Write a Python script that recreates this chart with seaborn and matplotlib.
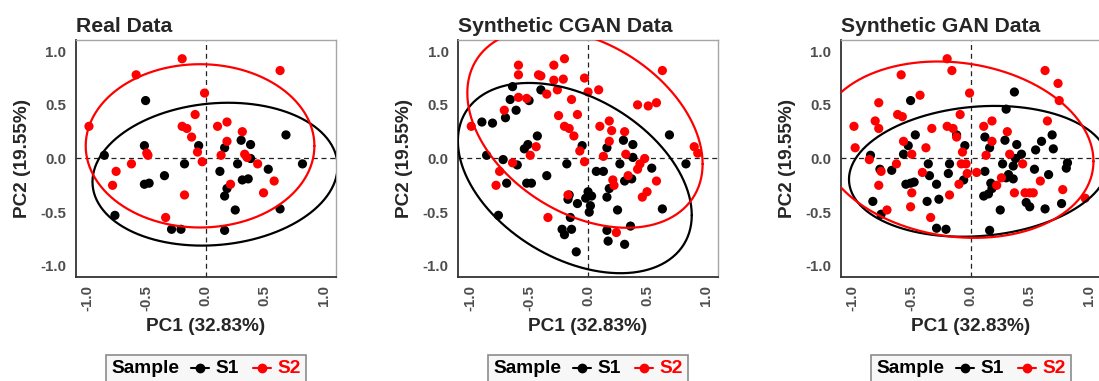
import numpy as np
import pandas as pd
import matplotlib
matplotlib.use("Agg")
import matplotlib.pyplot as plt
import seaborn as sns
from matplotlib.offsetbox import TextArea, DrawingArea, HPacker, AnchoredOffsetbox
from matplotlib.lines import Line2D
from matplotlib.ticker import FixedLocator, FixedFormatter

# ---------------- data ----------------
titles = ["Real Data", "Synthetic CGAN Data", "Synthetic GAN Data"]
groups = ["S1", "S2"]
x_label = "PC1 (32.83%)"
y_label = "PC2 (19.55%)"
tick_values = [-1.0, -0.5, 0.0, 0.5, 1.0]
tick_labels = ["-1.0", "-0.5", "0.0", "0.5", "1.0"]

real_s1_x = [-0.51, 0.68, -0.86, -0.52, -0.06, 0.16, 0.30, 0.38, 0.38, 0.82, -0.18, 0.12, 0.27, 0.53,
             -0.35, -0.52, -0.48, 0.31, 0.36, 0.18, 0.16, 0.25, 0.63, -0.77, -0.29, -0.21, 0.16]
real_s1_y = [0.54, 0.22, 0.03, 0.12, 0.12, 0.10, 0.17, 0.13, 0.00, -0.05, -0.05, -0.12, -0.05, -0.10,
             -0.16, -0.24, -0.23, -0.20, -0.19, -0.28, -0.35, -0.48, -0.47, -0.53, -0.66, -0.66, -0.67]
real_s2_x = [-0.20, -0.59, 0.63, -0.01, -0.99, -0.09, -0.20, -0.16, -0.12, 0.10, 0.18, 0.31, 0.18, -0.07,
             -0.50, -0.49, -0.63, -0.76, -0.79, -0.03, 0.13, 0.33, 0.35, 0.44, 0.58, 0.49, 0.21, -0.18, -0.34]
real_s2_y = [0.93, 0.78, 0.82, 0.61, 0.30, 0.41, 0.30, 0.28, 0.20, 0.30, 0.34, 0.25, 0.16, 0.06,
             0.05, 0.03, -0.05, -0.12, -0.25, -0.03, 0.03, 0.04, 0.01, -0.05, -0.21, -0.32, -0.24, -0.34, -0.55]

cgan_s1_x = [-0.64, -0.66, -0.40, -0.50, -0.61, -0.70, -0.90, -0.81, -0.43, -0.51, -0.54, -0.86, -0.72, -0.60,
             -0.18, -0.05, -0.35, -0.69, -0.52, -0.48, 0.16, 0.30, 0.38, 0.38, 0.27, 0.54, 0.69, 0.83,
             0.07, 0.13, 0.31, 0.37, 0.18, 0.16, 0.00, 0.03, -0.02, 0.02, 0.01, -0.16, -0.17, -0.09,
             0.25, 0.63, -0.76, -0.15, -0.22, -0.14, -0.20, 0.16, 0.17, 0.36, 0.31, -0.10]
cgan_s1_y = [0.67, 0.55, 0.64, 0.54, 0.45, 0.38, 0.34, 0.33, 0.21, 0.13, 0.09, 0.03, -0.01, -0.06,
             -0.05, 0.12, -0.16, -0.23, -0.23, -0.23, 0.10, 0.17, 0.13, 0.01, -0.05, -0.09, 0.22, -0.05,
             -0.12, -0.12, -0.21, -0.19, -0.28, -0.36, -0.31, -0.35, -0.37, -0.44, -0.50, -0.34, -0.38, -0.42,
             -0.48, -0.47, -0.53, -0.55, -0.66, -0.66, -0.71, -0.67, -0.77, -0.63, -0.80, -0.87]
cgan_s2_x = [-0.59, -0.59, -0.42, -0.40, -0.29, -0.20, -0.29, -0.21, -0.26, -0.03, 0.00, 0.09, 0.63, -0.35,
             -0.59, -0.52, -0.14, -0.71, 0.42, 0.51, 0.58, -0.25, -0.09, -0.99, -0.20, -0.16, -0.12, 0.10,
             0.18, 0.20, 0.31, 0.18, -0.44, -0.07, -0.49, 0.32, 0.13, -0.03, -0.64, -0.75, -0.78, 0.48,
             0.44, 0.42, 0.34, 0.21, 0.22, 0.58, 0.50, 0.46, 0.90, 0.93, -0.17, -0.34, 0.24]
cgan_s2_y = [0.87, 0.78, 0.78, 0.77, 0.87, 0.93, 0.73, 0.74, 0.64, 0.75, 0.62, 0.64, 0.82, 0.60,
             0.57, 0.56, 0.55, 0.45, 0.50, 0.49, 0.52, 0.40, 0.41, 0.30, 0.30, 0.28, 0.21, 0.30,
             0.35, 0.26, 0.25, 0.16, 0.11, 0.07, 0.03, 0.04, 0.02, -0.03, -0.04, -0.12, -0.25, 0.00,
             -0.05, -0.10, -0.16, -0.20, -0.25, -0.21, -0.31, -0.36, 0.11, 0.05, -0.34, -0.55, -0.69]

gan_s1_x = [-0.51, 0.37, 0.30, -0.47, -0.12, -0.53, -0.57, 0.12, 0.29, 0.39, 0.60, 0.69, 0.70, 0.55,
            -0.05, 0.16, 0.43, 0.38, -0.85, -0.77, -0.67, -0.36, -0.18, -0.19, -0.35, -0.29, -0.55, -0.51,
            -0.48, -0.06, 0.12, 0.27, 0.36, 0.54, 0.66, 0.82, 0.81, 0.32, 0.30, 0.36, 0.17, 0.18,
            0.15, 0.11, -0.37, -0.27, -0.83, -0.76, 0.25, 0.47, 0.50, 0.63, 0.77, -0.29, -0.21, 0.16]
gan_s1_y = [0.54, 0.62, 0.46, 0.22, 0.22, 0.12, 0.04, 0.20, 0.17, 0.13, 0.16, 0.22, 0.09, 0.08,
            0.12, 0.10, 0.04, 0.00, 0.03, -0.10, -0.11, -0.05, -0.05, -0.14, -0.16, -0.24, -0.24, -0.23,
            -0.22, -0.20, -0.12, -0.05, -0.07, -0.10, -0.15, -0.04, -0.09, -0.15, -0.18, -0.19, -0.23, -0.28,
            -0.33, -0.35, -0.40, -0.38, -0.40, -0.52, -0.48, -0.41, -0.45, -0.47, -0.42, -0.65, -0.66, -0.67]
gan_s2_x = [-0.20, -0.16, -0.59, 0.63, 0.74, 0.75, -0.01, -0.43, -0.78, -0.62, -0.58, -0.81, -0.78, -0.99,
            -0.09, 0.18, 0.11, -0.20, -0.15, -0.33, -0.12, 0.31, 0.65, 0.18, -0.57, -0.38, -0.98, -0.50,
            -0.07, -0.86, 0.13, 0.33, -0.63, -0.08, -0.04, -0.76, -0.41, -0.03, 0.05, 0.44, -0.78, -0.10,
            0.22, 0.26, 0.59, 0.78, -0.18, -0.50, -0.51, 0.37, 0.46, 0.50, 0.53, 0.97, -0.71, -0.34]
gan_s2_y = [0.93, 0.82, 0.78, 0.82, 0.70, 0.54, 0.61, 0.59, 0.52, 0.41, 0.39, 0.35, 0.28, 0.30,
            0.41, 0.35, 0.30, 0.30, 0.28, 0.28, 0.20, 0.25, 0.35, 0.16, 0.16, 0.10, 0.10, 0.04,
            0.06, -0.01, 0.03, 0.04, -0.05, -0.05, -0.05, -0.12, -0.13, -0.14, -0.13, -0.05, -0.25, -0.24,
            -0.25, -0.18, -0.21, -0.29, -0.34, -0.32, -0.45, -0.32, -0.32, -0.32, -0.32, -0.37, -0.48, -0.55]

panel_data = [
    (real_s1_x, real_s1_y, real_s2_x, real_s2_y),
    (cgan_s1_x, cgan_s1_y, cgan_s2_x, cgan_s2_y),
    (gan_s1_x, gan_s1_y, gan_s2_x, gan_s2_y),
]

# ---------------- style ----------------
sns.set_style("white")
plt.rcParams['font.family'] = ['Liberation Sans', 'DejaVu Sans']
plt.rcParams['axes.unicode_minus'] = False

palette = {"S1": "#000000", "S2": "#FF0000"}

W, H = 1099, 381
fig = plt.figure(figsize=(W / 100, H / 100), dpi=100)

lefts_px = [76, 458.3, 841]
ax_w_px = 259.5
ax_top_px, ax_bot_px = 40.5, 276.5


def cov_trob(pts, nu=5, maxit=25, tol=0.01):
    """Multivariate-t robust covariance (as MASS::cov.trob, used by stat_ellipse)."""
    n, p = pts.shape
    loc = pts.mean(axis=0)
    w = np.ones(n)
    X = pts - loc
    for _ in range(maxit):
        w0 = w
        X = pts - loc
        A = np.sqrt(w / w.sum())[:, None] * X
        _, d, vt = np.linalg.svd(A, full_matrices=False)
        wX = X @ vt.T @ np.diag(1.0 / d)
        Q = (wX ** 2).sum(axis=1)
        w = (nu + p) / (nu + Q)
        loc = (w[:, None] * pts).sum(axis=0) / w.sum()
        if np.all(np.abs(w - w0) < tol):
            break
    cov = (np.sqrt(w)[:, None] * X).T @ (np.sqrt(w)[:, None] * X) / n
    return loc, cov


def ellipse_path(x, y, level=0.95, segments=121):
    pts = np.column_stack([x, y])
    n = len(pts)
    center, shape = cov_trob(pts)
    m = n - 1
    fq = (m / 2.0) * ((1 - level) ** (-2.0 / m) - 1)  # F(2, m) quantile
    radius = np.sqrt(2 * fq)
    theta = np.linspace(0, 2 * np.pi, segments)
    unit = np.column_stack([np.cos(theta), np.sin(theta)])
    upper = np.linalg.cholesky(shape).T
    ell = center + radius * (unit @ upper)
    return ell[:, 0], ell[:, 1]


for i, (title, (ax1, ay1, ax2, ay2)) in enumerate(zip(titles, panel_data)):
    df = pd.DataFrame({
        "PC1": np.r_[ax1, ax2],
        "PC2": np.r_[ay1, ay2],
        "Sample": ["S1"] * len(ax1) + ["S2"] * len(ax2),
    })
    ax = fig.add_axes([lefts_px[i] / W, 1 - ax_bot_px / H, ax_w_px / W, (ax_bot_px - ax_top_px) / H])
    ax.axhline(0, color="#222222", lw=0.9, ls=(0, (4, 3)), zorder=1)
    ax.axvline(0, color="#222222", lw=0.9, ls=(0, (4, 3)), zorder=1)
    sns.scatterplot(data=df, x="PC1", y="PC2", hue="Sample", palette=palette,
                    hue_order=groups, s=44, linewidth=0, legend=False, ax=ax, zorder=3)
    for g, gx, gy in (("S1", ax1, ay1), ("S2", ax2, ay2)):
        ex, ey = ellipse_path(np.asarray(gx), np.asarray(gy))
        ax.plot(ex, ey, color=palette[g], lw=1.6, zorder=4)

    ax.set_xlim(-1.1, 1.1)
    ax.set_ylim(-1.1, 1.1)
    ax.xaxis.set_major_locator(FixedLocator(tick_values))
    ax.xaxis.set_major_formatter(FixedFormatter(tick_labels))
    ax.yaxis.set_major_locator(FixedLocator(tick_values))
    ax.yaxis.set_major_formatter(FixedFormatter(tick_labels))
    ax.tick_params(axis="both", which="major", length=3, width=0.8, color="#333333",
                   labelsize=10.8, labelcolor="#4D4D4D", direction="out")
    ax.tick_params(axis="x", pad=3, labelrotation=90)
    ax.tick_params(axis="y", pad=4)
    for lab in ax.get_xticklabels() + ax.get_yticklabels():
        lab.set_fontweight("bold")
    ax.set_xlabel(x_label, fontsize=13.7, fontweight="bold", labelpad=5)
    ax.set_ylabel(y_label, fontsize=13.7, fontweight="bold", labelpad=7)
    ax.set_title(title, loc="left", fontsize=15.2, fontweight="bold", pad=6)

    for side in ("left", "bottom"):
        ax.spines[side].set_color("#333333")
        ax.spines[side].set_linewidth(1.3)
    for side in ("top", "right"):
        ax.spines[side].set_color("#A6A6A6")
        ax.spines[side].set_linewidth(1.0)

    # legend: "Sample  -o- S1  -o- S2"
    fs = 13.8

    def key(color):
        da = DrawingArea(13, 10, 0, 0)
        da.add_artist(Line2D([0, 13], [5, 5], color=color, lw=1.5))
        da.add_artist(Line2D([6.5], [5], color=color, marker="o", markersize=6, lw=0))
        return da

    items = [
        TextArea("Sample", textprops=dict(fontsize=fs, fontweight="bold", color="black")),
        DrawingArea(0, 10, 0, 0),
        key(palette["S1"]),
        TextArea("S1", textprops=dict(fontsize=fs, fontweight="bold", color=palette["S1"])),
        DrawingArea(2, 10, 0, 0),
        key(palette["S2"]),
        TextArea("S2", textprops=dict(fontsize=fs, fontweight="bold", color=palette["S2"])),
    ]
    pack = HPacker(children=items, sep=4.3, pad=0, align="center")
    cx = (lefts_px[i] + ax_w_px / 2) / W
    anch = AnchoredOffsetbox(loc="upper center", child=pack, pad=0.28, borderpad=0,
                             frameon=True, bbox_to_anchor=(cx, 1 - 354.5 / H),
                             bbox_transform=fig.transFigure, prop=dict(size=fs))
    anch.patch.set_edgecolor("#8C8C8C")
    anch.patch.set_facecolor("#F7F7F7")
    anch.patch.set_linewidth(1.2)
    anch.patch.set_boxstyle("square", pad=0)
    fig.add_artist(anch)

fig.savefig("out.png", dpi=100)
